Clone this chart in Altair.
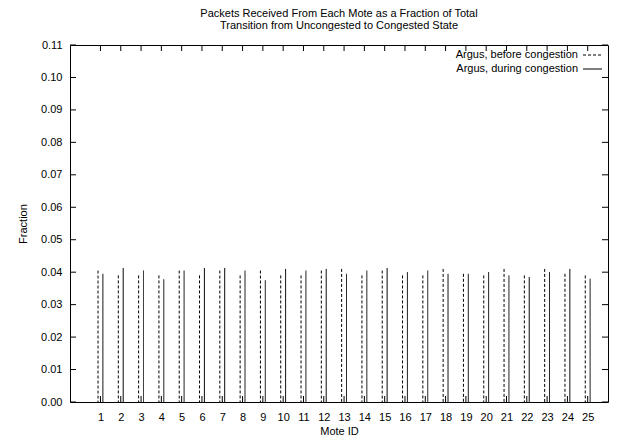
import altair as alt
import pandas as pd

motes = list(range(1, 26))
before = [0.0405, 0.0390, 0.0390, 0.0390, 0.0405, 0.0390, 0.0405, 0.0390, 0.0405, 0.0390,
          0.0390, 0.0405, 0.0410, 0.0390, 0.0405, 0.0390, 0.0390, 0.0410, 0.0395, 0.0390,
          0.0410, 0.0390, 0.0410, 0.0395, 0.0390]
during = [0.0395, 0.0413, 0.0405, 0.0378, 0.0405, 0.0413, 0.0413, 0.0405, 0.0375, 0.0410,
          0.0405, 0.0410, 0.0395, 0.0405, 0.0413, 0.0400, 0.0405, 0.0395, 0.0395, 0.0400,
          0.0390, 0.0385, 0.0400, 0.0410, 0.0380]
series_names = ["Argus, before congestion", "Argus, during congestion"]
x_ticks = list(range(1, 26))
y_ticks = [round(i * 0.01, 2) for i in range(12)]

off = 0.12
rows = []
for m, b, d in zip(motes, before, during):
    rows.append({"mote": m, "x": m - off, "value": b, "series": series_names[0]})
    rows.append({"mote": m, "x": m + off, "value": d, "series": series_names[1]})
df = pd.DataFrame(rows)
xt = pd.DataFrame({"x": x_ticks})
yt = pd.DataFrame({"value": y_ticks})

font = "Liberation Sans"
L, T, R, B = 70, 45, 608, 402
W, H = R - L, B - T
TL = 6

xscale = alt.Scale(domain=[-0.5, 26.0], nice=False, zero=False)
yscale = alt.Scale(domain=[0, 0.11], nice=False)
dash_scale = alt.Scale(domain=series_names, range=[[3, 2], [1, 0]])

xaxis = alt.Axis(title="Mote ID", values=x_ticks, format="d", grid=False,
                 ticks=False, domain=False, labelOverlap=False,
                 labelFont=font, titleFont=font, labelFontSize=11, titleFontSize=11,
                 titleFontWeight="normal", labelColor="black", titleColor="black",
                 labelPadding=9, titlePadding=3)
yaxis = alt.Axis(title="Fraction", values=y_ticks, format=".2f", grid=False,
                 ticks=False, domain=False, labelOverlap=False,
                 labelFont=font, titleFont=font, labelFontSize=11, titleFontSize=11,
                 titleFontWeight="normal", labelColor="black", titleColor="black",
                 labelPadding=8, titlePadding=12)

bars = alt.Chart(df).mark_rule(color="black", strokeWidth=1).encode(
    x=alt.X("x:Q", scale=xscale, axis=xaxis),
    y=alt.Y("value:Q", scale=yscale, axis=yaxis),
    y2=alt.datum(0),
    strokeDash=alt.StrokeDash("series:N", scale=dash_scale, legend=None),
)

tick_style = dict(color="black", strokeWidth=1)
xb = alt.Chart(xt).mark_rule(**tick_style).encode(
    x=alt.X("x:Q", scale=xscale, axis=xaxis), y=alt.value(H), y2=alt.value(H - TL))
xtop = alt.Chart(xt).mark_rule(**tick_style).encode(
    x=alt.X("x:Q", scale=xscale, axis=xaxis), y=alt.value(0), y2=alt.value(TL))
yl = alt.Chart(yt).mark_rule(**tick_style).encode(
    y=alt.Y("value:Q", scale=yscale, axis=yaxis), x=alt.value(0), x2=alt.value(TL))
yr = alt.Chart(yt).mark_rule(**tick_style).encode(
    y=alt.Y("value:Q", scale=yscale, axis=yaxis), x=alt.value(W), x2=alt.value(W - TL))

leg_df = pd.DataFrame({"series": series_names})
leg_layers = []
for i, name in enumerate(series_names):
    ypix = 10 + 14 * i
    sub = alt.Chart(leg_df).transform_filter(alt.datum.series == name)
    leg_layers.append(sub.mark_text(
        align="right", baseline="middle", font=font, fontSize=11, color="black").encode(
        x=alt.value(W - 30), y=alt.value(ypix), text="series:N"))
    leg_layers.append(sub.mark_rule(color="black", strokeWidth=1).encode(
        x=alt.value(W - 25), x2=alt.value(W - 6), y=alt.value(ypix),
        strokeDash=alt.StrokeDash("series:N", scale=dash_scale, legend=None)))

chart = alt.layer(bars, xb, xtop, yl, yr, *leg_layers).properties(
    width=W, height=H,
    autosize=alt.AutoSizeParams(type="none"),
    padding={"left": L, "top": T, "right": 618 - R, "bottom": 441 - B},
    title=alt.Title(["Packets Received From Each Mote as a Fraction of Total",
                     "Transition from Uncongested to Congested State"],
                    font=font, fontSize=11, fontWeight="normal", color="black",
                    anchor="middle", offset=8, lineHeight=12),
).configure_view(stroke="black", strokeWidth=1)

chart.save("out.html", embed_options={"renderer": "svg", "actions": False})
